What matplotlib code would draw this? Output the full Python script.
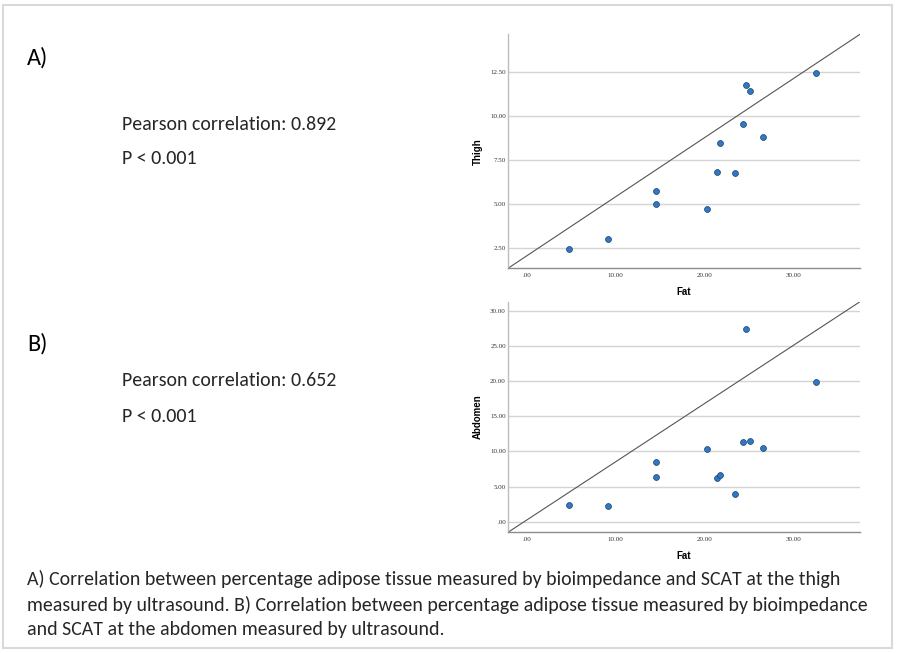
import matplotlib
matplotlib.use("Agg")
import matplotlib.pyplot as plt
from matplotlib.patches import Rectangle
from matplotlib.ticker import FuncFormatter

# ---- data ----
fat = [4.79, 9.18, 14.53, 14.53, 20.26, 21.46, 21.76, 23.41, 24.31, 24.72, 25.13, 26.55, 32.55]
thigh = [2.46, 3.05, 5.76, 5.02, 4.75, 6.82, 8.47, 6.80, 9.58, 11.78, 11.42, 8.81, 12.48]
abdomen = [2.43, 2.19, 8.46, 6.42, 10.32, 6.23, 6.61, 3.99, 11.32, 27.34, 11.41, 10.51, 19.83]

x_ticks = [0, 10, 20, 30]
thigh_ticks = [2.5, 5.0, 7.5, 10.0, 12.5]
abdomen_ticks = [0, 5, 10, 15, 20, 25, 30]

labels_a = ["A)", "Pearson correlation: 0.892", "P < 0.001"]
labels_b = ["B)", "Pearson correlation: 0.652", "P < 0.001"]
caption_lines = [
    "A) Correlation between percentage adipose tissue measured by bioimpedance and SCAT at the thigh",
    "measured by ultrasound. B) Correlation between percentage adipose tissue measured by bioimpedance",
    "and SCAT at the abdomen measured by ultrasound.",
]

W, H = 898, 653
fig = plt.figure(figsize=(W / 100, H / 100), dpi=100)
fig.patch.set_facecolor("white")

body_font = ["Carlito", "Lato", "DejaVu Sans"]

def fx(px):
    return px / W

def fy(py):
    return 1 - py / H

# frame
fig.add_artist(Rectangle((fx(3), fy(648)), fx(892) - fx(3), fy(5) - fy(648),
                         transform=fig.transFigure, fill=False,
                         edgecolor="#d9d9d9", linewidth=1.5))

def fmt(v, pos):
    s = "%.2f" % v
    if s.startswith("0."):
        s = s[1:]
    return s

def panel(rect, y, yticks, ylim, ylabel):
    ax = fig.add_axes(rect)
    ax.set_xlim(-2.07, 37.5)
    ax.set_ylim(*ylim)
    ax.set_xticks(x_ticks)
    ax.set_yticks(yticks)
    ax.xaxis.set_major_formatter(FuncFormatter(fmt))
    ax.yaxis.set_major_formatter(FuncFormatter(fmt))
    ax.tick_params(length=0, labelsize=5, pad=1.5, colors="#333333")
    for lab in ax.get_xticklabels() + ax.get_yticklabels():
        lab.set_family(["Liberation Serif", "DejaVu Serif"])
    ax.tick_params(axis="x", pad=3.5)
    ax.grid(axis="y", color="#d4d4d4", linewidth=1.0)
    ax.set_axisbelow(True)
    for s in ["top", "right"]:
        ax.spines[s].set_visible(False)
    ax.spines["left"].set_color("#bdbdbd")
    ax.spines["bottom"].set_color("#8c8c8c")
    ax.spines["left"].set_linewidth(1.0)
    ax.spines["bottom"].set_linewidth(1.0)
    ax.plot([0, 1], [0, 1], transform=ax.transAxes, color="#555555", linewidth=0.8, zorder=2)
    ax.scatter(fat, y, s=18, color="#2f78c4", edgecolors="#1b3f66", linewidths=0.5, zorder=3)
    ax.set_xlabel("Fat", fontsize=7, fontweight="bold", family=["Liberation Sans", "DejaVu Sans"], labelpad=6.5)
    ax.set_ylabel(ylabel, fontsize=7, fontweight="bold", family=["Liberation Sans", "DejaVu Sans"], labelpad=5.5)
    return ax

panel([fx(508), fy(268.3), fx(860) - fx(508), fy(34.3) - fy(268.3)],
      thigh, thigh_ticks, (1.36, 14.66), "Thigh")
panel([fx(508), fy(532.3), fx(860) - fx(508), fy(301.7) - fy(532.3)],
      abdomen, abdomen_ticks, (-1.51, 31.28), "Abdomen")

# left annotations
fig.text(fx(27), fy(58), labels_a[0], fontsize=17.5, family=body_font, va="center", ha="left", color="black")
fig.text(fx(122), fy(124), labels_a[1], fontsize=14.3, family=body_font, va="center", ha="left", color="#262626")
fig.text(fx(122), fy(158), labels_a[2], fontsize=14.3, family=body_font, va="center", ha="left", color="#262626")
fig.text(fx(27), fy(344), labels_b[0], fontsize=17.5, family=body_font, va="center", ha="left", color="black")
fig.text(fx(122), fy(381), labels_b[1], fontsize=14.3, family=body_font, va="center", ha="left", color="#262626")
fig.text(fx(122), fy(416), labels_b[2], fontsize=14.3, family=body_font, va="center", ha="left", color="#262626")

for i, line in enumerate(caption_lines):
    fig.text(fx(27), fy(579 + 25.5 * i), line, fontsize=14.3, family=body_font, va="center", ha="left",
             color="#262626")

fig.savefig("out.png", dpi=100)
